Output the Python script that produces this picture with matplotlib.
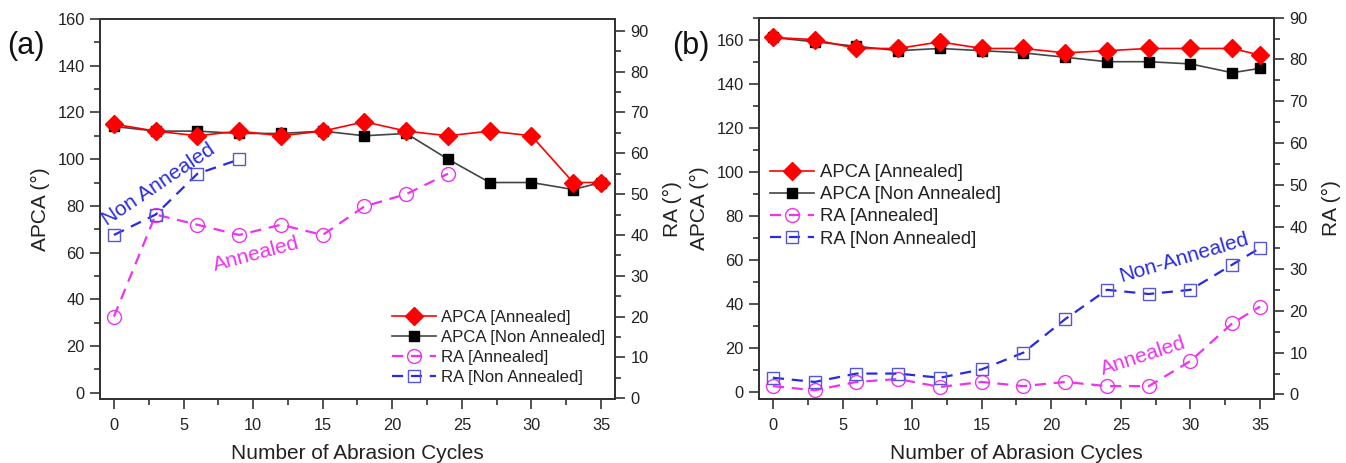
import matplotlib
matplotlib.use("Agg")
import matplotlib.pyplot as plt
from matplotlib.ticker import MultipleLocator

plt.rcParams['font.family'] = ['Liberation Sans', 'DejaVu Sans']

cycles = [0, 3, 6, 9, 12, 15, 18, 21, 24, 27, 30, 33, 35]

# Panel (a)
a_apca_ann = [115, 112, 110, 112, 110, 112, 116, 112, 110, 112, 110, 90, 90]
a_apca_non = [114, 112, 112, 111, 111, 112, 110, 111, 100, 90, 90, 87, 90]
a_ra_ann_x = [0, 3, 6, 9, 12, 15, 18, 21, 24]
a_ra_ann = [20, 45, 42.5, 40, 42.5, 40, 47, 50, 55]
a_ra_non_x = [0, 3, 6, 9]
a_ra_non = [40, 45, 55, 58.5]

# Panel (b)
b_apca_ann = [161, 160, 156, 156, 159, 156, 156, 154, 155, 156, 156, 156, 153]
b_apca_non = [161, 159, 157, 155, 156, 155, 154, 152, 150, 150, 149, 145, 147]
b_ra_ann = [2, 1, 3, 3.7, 1.8, 3, 2, 3, 2, 2, 8, 17, 21]
b_ra_non = [4, 3, 5, 5, 4, 6, 10, 18, 25, 24, 25, 31, 35]

labels = ["APCA [Annealed]", "APCA [Non Annealed]", "RA [Annealed]", "RA [Non Annealed]"]

RED = "#ff0000"
BLACK = "#000000"
GRAY = "#444444"
MAG = "#ee33ee"
BLUE = "#2a2ae0"
SQBLUE = "#5555dd"
SPINE = "#333333"
TXT = "#222222"

fig = plt.figure(figsize=(13.46, 4.63), dpi=100)

def style_axes(ax, ax2):
    for a in (ax, ax2):
        for s in a.spines.values():
            s.set_color(SPINE)
            s.set_linewidth(1.4)
        a.tick_params(which='both', direction='out', color=SPINE, width=1.2,
                      labelsize=11.8, labelcolor=TXT)
        a.tick_params(which='major', length=7)
        a.tick_params(which='minor', length=4)
    ax.tick_params(axis='x', which='major', pad=6.5)
    ax.tick_params(axis='y', which='major', pad=4)
    ax2.tick_params(axis='y', which='major', pad=4)
    ax.xaxis.set_major_locator(MultipleLocator(5))
    ax.xaxis.set_minor_locator(MultipleLocator(2.5))
    ax.yaxis.set_major_locator(MultipleLocator(20))
    ax.yaxis.set_minor_locator(MultipleLocator(10))
    ax2.yaxis.set_major_locator(MultipleLocator(10))
    ax2.yaxis.set_minor_locator(MultipleLocator(5))
    ax.set_xlim(-1, 36)
    ax.set_xlabel("Number of Abrasion Cycles", fontsize=15, color=TXT, labelpad=8)
    ax.set_ylabel("APCA (°)", fontsize=15, color=TXT, labelpad=5)
    ax2.set_ylabel("RA (°)", fontsize=15, color=TXT, labelpad=10)

def draw(ax, ax2, apca_ann, apca_non, ra_ann_x, ra_ann, ra_non_x, ra_non):
    h1, = ax.plot(cycles, apca_ann, color=RED, lw=1.2, marker='D', ms=9,
                  mfc=RED, mec=RED, zorder=4)
    h2, = ax.plot(cycles, apca_non, color=GRAY, lw=1.2, marker='s', ms=7.8,
                  mfc=BLACK, mec=BLACK, zorder=3)
    h3, = ax2.plot(ra_ann_x, ra_ann, color=MAG, lw=1.6, ls=(0, (5, 3.5)), marker='o', ms=10,
                   mfc='none', mec=MAG, mew=1.0)
    h4, = ax2.plot(ra_non_x, ra_non, color=BLUE, lw=1.6, ls=(0, (5, 3.5)), marker='s', ms=8,
                   mfc='none', mec=SQBLUE, mew=1.0)
    return [h1, h2, h3, h4]

# Panel (a)
axa = fig.add_axes([0.0743, 0.1376, 0.3826, 0.8214])
axa2 = axa.twinx()
ha = draw(axa, axa2, a_apca_ann, a_apca_non, a_ra_ann_x, a_ra_ann, a_ra_non_x, a_ra_non)
axa.set_ylim(-2.8, 160)
axa2.set_ylim(-0.25, 92.9)
style_axes(axa, axa2)
axa2.set_zorder(axa.get_zorder() - 1)
axa.patch.set_visible(False)
leg = axa.legend(ha, labels, loc='lower right', bbox_to_anchor=(1.0, 0.012), frameon=False,
                 fontsize=12.1, handlelength=2.6, labelspacing=0.3, handletextpad=0.3,
                 borderaxespad=0.2)
for t in leg.get_texts():
    t.set_color(TXT)
axa.text(3.2, 89, "Non Annealed", color=BLUE, fontsize=15, rotation=34,
         ha='center', va='center', rotation_mode='anchor')
axa.text(10.2, 59.5, "Annealed", color=MAG, fontsize=15, rotation=15,
         ha='center', va='center', rotation_mode='anchor')
fig.text(0.005, 0.9, "(a)", fontsize=22, color='#111111', va='center')

# Panel (b)
axb = fig.add_axes([0.5639, 0.138, 0.3826, 0.824])
axb2 = axb.twinx()
hb = draw(axb, axb2, b_apca_ann, b_apca_non, cycles, b_ra_ann, cycles, b_ra_non)
axb.set_ylim(-3, 170)
axb2.set_ylim(-1.1, 90)
style_axes(axb, axb2)
axb2.set_zorder(axb.get_zorder() - 1)
axb.patch.set_visible(False)
legb = axb.legend(hb, labels, loc='upper left', bbox_to_anchor=(0.0, 0.645), frameon=False,
                  fontsize=13.3, handlelength=2.4, labelspacing=0.28, handletextpad=0.3,
                  borderaxespad=0.2)
for t in legb.get_texts():
    t.set_color(TXT)
axb2.text(29.5, 32.7, "Non-Annealed", color=BLUE, fontsize=15, rotation=16.5,
          ha='center', va='center', rotation_mode='anchor')
axb2.text(26.6, 9.1, "Annealed", color=MAG, fontsize=15, rotation=18,
          ha='center', va='center', rotation_mode='anchor')
fig.text(0.499, 0.9, "(b)", fontsize=22, color='#111111', va='center')

fig.savefig("out.png", dpi=100)
